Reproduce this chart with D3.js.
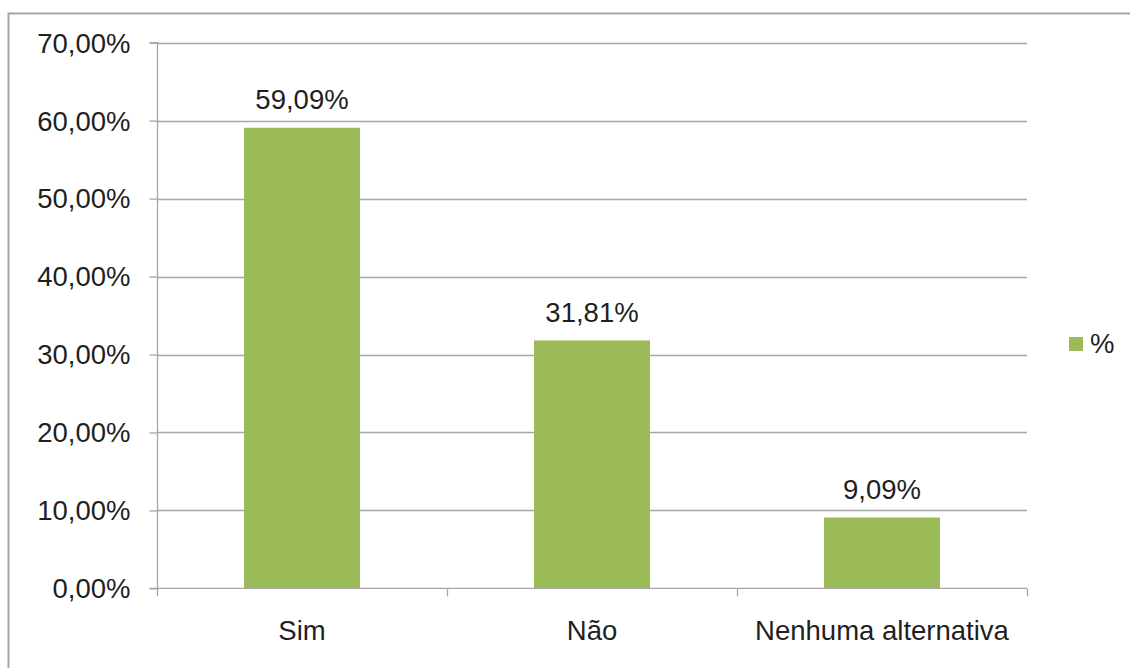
<!DOCTYPE html>
<html>
<head>
<meta charset="utf-8">
<script src="https://cdn.jsdelivr.net/npm/d3@7"></script>
<style>
  html, body { margin: 0; padding: 0; background: #fff; }
  svg { display: block; }
  text { font-family: "Liberation Sans", Arial, sans-serif; fill: #1f1f1f; }
</style>
</head>
<body>
<svg id="chart" width="1130" height="668"></svg>
<script>
const categories = ["Sim", "Não", "Nenhuma alternativa"];
const values = [59.09, 31.81, 9.09];
const valueLabels = ["59,09%", "31,81%", "9,09%"];
const yTicks = [0, 10, 20, 30, 40, 50, 60, 70];
const seriesName = "%";

(function () {
const svg = d3.select("#chart");
const W = 1130, H = 668;
const pLeft = 157, pRight = 1027, pTop = 42.7, pBottom = 588.4;
const barColor = "#9BBB59";
const gridColor = "#A6A6A6";
const fontSize = 27.5;

// outer border
svg.append("rect")
  .attr("x", 8.5).attr("y", 13.5)
  .attr("width", W + 20).attr("height", H + 20)
  .attr("fill", "none").attr("stroke", "#A6A6A6").attr("stroke-width", 2);

const x = d3.scaleBand().domain(categories).range([pLeft, pRight]).paddingInner(0).paddingOuter(0);
const y = d3.scaleLinear().domain([0, 70]).range([pBottom, pTop]);

const fmt = v => d3.format(".2f")(v).replace(".", ",") + "%";

// gridlines
svg.append("g").selectAll("line").data(yTicks.filter(d => d > 0)).join("line")
  .attr("x1", pLeft).attr("x2", pRight)
  .attr("y1", d => Math.round(y(d)) + 0.5).attr("y2", d => Math.round(y(d)) + 0.5)
  .attr("stroke", gridColor).attr("stroke-width", 1.3);

// y axis
const yAxis = d3.axisLeft(y).tickValues(yTicks).tickSize(8).tickPadding(19).tickFormat(fmt);
const gy = svg.append("g").attr("transform", `translate(${pLeft + 0.5},0)`).call(yAxis);
gy.select(".domain").attr("stroke", gridColor).attr("stroke-width", 1.3).attr("d", `M-8,${pTop}H0V${pBottom}H-8`);
gy.selectAll(".tick line").attr("stroke", gridColor).attr("stroke-width", 1.3);
gy.selectAll(".tick text").attr("font-size", fontSize).attr("fill", "#1f1f1f")
  .attr("font-family", '"Liberation Sans", Arial, sans-serif').attr("dy", "0.34em");

// bars
const barW = x.bandwidth() * 0.4;
svg.append("g").selectAll("rect").data(values).join("rect")
  .attr("x", (d, i) => x(categories[i]) + x.bandwidth() * 0.3)
  .attr("width", barW)
  .attr("y", d => y(d))
  .attr("height", d => y(0) - y(d))
  .attr("fill", barColor);

// x axis
const xAxisG = svg.append("g").attr("transform", `translate(0,${pBottom})`);
xAxisG.append("line").attr("x1", pLeft).attr("x2", pRight).attr("y1", 0).attr("y2", 0)
  .attr("stroke", gridColor).attr("stroke-width", 1.3);
const xTickPos = categories.map(c => x(c)).concat([pRight]);
xAxisG.selectAll("line.t").data(xTickPos).join("line").attr("class", "t")
  .attr("x1", d => d + 0.5).attr("x2", d => d + 0.5).attr("y1", 0).attr("y2", 8)
  .attr("stroke", gridColor).attr("stroke-width", 1.3);
xAxisG.selectAll("text").data(categories).join("text")
  .attr("x", d => x(d) + x.bandwidth() / 2)
  .attr("y", 52)
  .attr("text-anchor", "middle")
  .attr("font-size", fontSize)
  .text(d => d);

// value labels
svg.append("g").selectAll("text").data(values).join("text")
  .attr("x", (d, i) => x(categories[i]) + x.bandwidth() / 2)
  .attr("y", d => y(d) - 18.5)
  .attr("text-anchor", "middle")
  .attr("font-size", fontSize)
  .text((d, i) => valueLabels[i]);

// legend
svg.append("rect").attr("x", 1069).attr("y", 337).attr("width", 14).attr("height", 14).attr("fill", barColor);
svg.append("text").attr("x", 1090).attr("y", 353).attr("font-size", fontSize).text(seriesName);
})();
</script>
</body>
</html>
